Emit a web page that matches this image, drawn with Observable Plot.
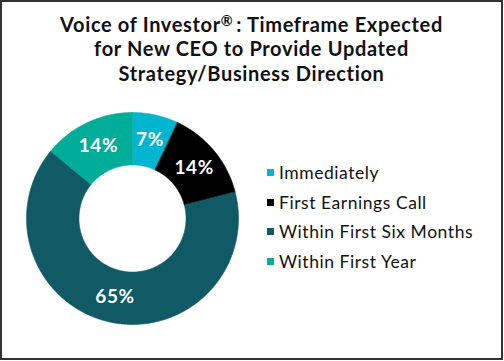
<!DOCTYPE html>
<html><head><meta charset="utf-8">
<script src="https://cdn.jsdelivr.net/npm/d3@7"></script>
<script src="https://cdn.jsdelivr.net/npm/@observablehq/plot@0.6"></script>
<style>
body{margin:0;background:#fff;}
#frame{position:relative;width:503px;height:360px;box-sizing:border-box;border:2px solid #333;font-family:Lato,sans-serif;background:#fff;overflow:hidden;}
#title{position:absolute;left:0;right:0;top:7px;text-align:center;font-weight:700;font-size:20px;letter-spacing:0.65px;line-height:24.5px;color:#111;}
#title .reg{font-size:0.72em;vertical-align:0.4em;margin-right:3px;}
#chart{position:absolute;left:24px;top:110px;}
#legend{position:absolute;left:265px;top:156px;}
.row{display:flex;align-items:center;height:29.5px;font-size:17.5px;letter-spacing:0.55px;color:#111;}
.sw{width:7px;height:7px;margin-right:5px;flex:none;}
</style></head><body>
<div id="frame">
  <div id="title">Voice of Investor<span class="reg">®</span>: Timeframe Expected<br>for New CEO to Provide Updated<br>Strategy/Business Direction</div>
  <div id="chart"></div>
  <div id="legend"></div>
</div>
<script>
const categories = ["Immediately", "First Earnings Call", "Within First Six Months", "Within First Year"];
const values = [7, 14, 65, 14];
const colors = ["#00b5cf", "#000000", "#105a66", "#00ad98"];
const labels = ["7%", "14%", "65%", "14%"];

const outerR = 1, innerR = 0.505, labelR = 0.755;
const arcs = d3.pie().sort(null)(values);
const pts = [];
const mids = [];
arcs.forEach((a, i) => {
  const n = Math.max(8, Math.ceil((a.endAngle - a.startAngle) / 0.01));
  for (let k = 0; k <= n; k++) {
    const t = a.startAngle + (a.endAngle - a.startAngle) * k / n;
    pts.push({cat: categories[i], x: outerR * Math.sin(t), y: outerR * Math.cos(t)});
  }
  for (let k = n; k >= 0; k--) {
    const t = a.startAngle + (a.endAngle - a.startAngle) * k / n;
    pts.push({cat: categories[i], x: innerR * Math.sin(t), y: innerR * Math.cos(t)});
  }
  const m = (a.startAngle + a.endAngle) / 2;
  mids.push({label: labels[i], x: labelR * Math.sin(m), y: labelR * Math.cos(m)});
});

const chart = Plot.plot({
  width: 212, height: 212, margin: 0,
  style: {fontFamily: "Lato, sans-serif", overflow: "visible", background: "transparent", letterSpacing: "0.6px"},
  x: {domain: [-1, 1], axis: null},
  y: {domain: [-1, 1], axis: null},
  color: {domain: categories, range: colors},
  marks: [
    Plot.line(pts, {x: "x", y: "y", z: "cat", fill: "cat", stroke: "cat", strokeWidth: 0.6, curve: "linear-closed"}),
    Plot.text(mids, {x: "x", y: "y", text: "label", fill: "white", fontSize: 19, fontWeight: 700})
  ]
});
document.getElementById("chart").appendChild(chart);

const legend = document.getElementById("legend");
categories.forEach((c, i) => {
  const row = document.createElement("div");
  row.className = "row";
  const sw = document.createElement("span");
  sw.className = "sw";
  sw.style.background = colors[i];
  const tx = document.createElement("span");
  tx.textContent = c;
  row.appendChild(sw); row.appendChild(tx);
  legend.appendChild(row);
});
</script>
</body></html>
